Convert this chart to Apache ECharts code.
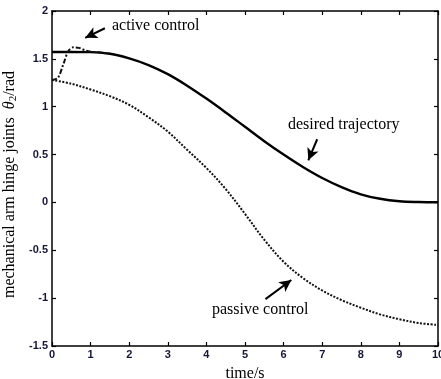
<!DOCTYPE html>
<html>
<head>
<meta charset="utf-8">
<script src="https://cdn.jsdelivr.net/npm/echarts@6/dist/echarts.min.js"></script>
<style>
html, body { margin: 0; padding: 0; background: #fff; }
#chart { width: 441px; height: 379px; }
</style>
</head>
<body>
<div id="chart"></div>
<script>
// time axis samples (s)
var timeS = [0, 0.5, 1, 1.5, 2, 2.5, 3, 3.5, 4, 4.5, 5, 5.5, 6, 6.5, 7, 7.5, 8, 8.5, 9, 9.5, 10];
var desired = [1.571, 1.571, 1.570, 1.553, 1.505, 1.435, 1.340, 1.220, 1.085, 0.940, 0.790, 0.640, 0.500, 0.370, 0.255, 0.160, 0.085, 0.038, 0.012, 0.004, 0.002];
var passive = [1.28, 1.24, 1.18, 1.11, 1.02, 0.89, 0.74, 0.55, 0.36, 0.14, -0.12, -0.39, -0.62, -0.79, -0.92, -1.02, -1.10, -1.17, -1.22, -1.26, -1.28];
// active control only differs from the desired curve at the start
var activeT = [0, 0.15, 0.3, 0.42, 0.55, 0.7, 0.85, 1.0, 1.2, 1.5];
var activeV = [1.28, 1.30, 1.45, 1.58, 1.62, 1.615, 1.59, 1.575, 1.57, 1.553];
var xTicks = ['0', '1', '2', '3', '4', '5', '6', '7', '8', '9', '10'];

function pairs(xs, ys) {
    var out = [];
    for (var i = 0; i < xs.length; i++) out.push([xs[i], ys[i]]);
    return out;
}

var dom = document.getElementById('chart');
var myChart = echarts.init(dom);
var tickFont = { color: '#16163a', fontFamily: 'Liberation Sans', fontWeight: 'bold', fontSize: 11 };
var serif = 'Liberation Serif';
var boxLine = { show: true, onZero: false, lineStyle: { color: '#000', width: 1.5 } };
var inTick = { inside: true, length: 4, lineStyle: { color: '#000', width: 1.2 } };

var option = {
    animation: false,
    grid: { left: 52, right: 3, top: 11, bottom: 33, outerBoundsMode: 'none' },
    xAxis: [{
        type: 'value', min: 0, max: 10, interval: 1,
        axisLine: boxLine, axisTick: inTick,
        axisLabel: Object.assign({ margin: 3, formatter: function (v) { return xTicks[v] || ''; } }, tickFont),
        splitLine: { show: false },
        name: 'time/s', nameLocation: 'middle', nameGap: 20,
        nameTextStyle: { fontFamily: serif, fontSize: 16, color: '#000' }
    }, {
        type: 'value', min: 0, max: 10, interval: 1, position: 'top',
        axisLine: boxLine, axisTick: inTick,
        axisLabel: { show: false }, splitLine: { show: false }
    }],
    yAxis: [{
        type: 'value', min: -1.5, max: 2, interval: 0.5,
        axisLine: boxLine, axisTick: inTick,
        axisLabel: Object.assign({ margin: 4 }, tickFont),
        splitLine: { show: false },
        name: '{n|mechanical arm hinge joints  }{t|θ}{s|2}{n|/rad}',
        nameLocation: 'middle', nameGap: 22, nameRotate: 90,
        nameTextStyle: {
            color: '#000', padding: [0, 12, 0, 0],
            rich: {
                n: { fontFamily: serif, fontSize: 16, color: '#000' },
                t: { fontFamily: serif, fontSize: 16, fontStyle: 'italic', color: '#000' },
                s: { fontFamily: serif, fontSize: 11, color: '#000', verticalAlign: 'bottom', padding: [6, 0, 0, 0] }
            }
        }
    }, {
        type: 'value', min: -1.5, max: 2, interval: 0.5, position: 'right',
        axisLine: boxLine, axisTick: inTick,
        axisLabel: { show: false }, splitLine: { show: false }
    }],
    series: [{
        name: 'desired trajectory', type: 'line', data: pairs(timeS, desired),
        smooth: 0.35, showSymbol: false,
        lineStyle: { color: '#000', width: 2.4 }
    }, {
        name: 'passive control', type: 'line', data: pairs(timeS, passive),
        smooth: 0.35, showSymbol: false,
        lineStyle: { color: '#111', width: 2, type: [2, 1.5] }
    }, {
        name: 'active control', type: 'line', data: pairs(activeT, activeV),
        smooth: 0.3, showSymbol: false,
        lineStyle: { color: '#111', width: 2, type: [5, 2, 2, 2] },
        markLine: {
            silent: true, symbol: ['none', 'arrow'], symbolSize: [9, 12],
            label: { show: false },
            lineStyle: { color: '#000', width: 2, type: 'solid' },
            data: [
                [{ coord: [1.37, 1.82] }, { coord: [0.86, 1.72] }],
                [{ coord: [6.87, 0.66] }, { coord: [6.64, 0.44] }],
                [{ coord: [5.53, -1.01] }, { coord: [6.2, -0.81] }]
            ]
        }
    }],
    graphic: [
        { type: 'text', left: 112, top: 18, style: { text: 'active control', font: '16px "Liberation Serif"', fill: '#000' } },
        { type: 'text', left: 288, top: 117, style: { text: 'desired trajectory', font: '16px "Liberation Serif"', fill: '#000' } },
        { type: 'text', left: 212, top: 302, style: { text: 'passive control', font: '16px "Liberation Serif"', fill: '#000' } }
    ]
};
myChart.setOption(option, true);
window.addEventListener('resize', function () { myChart.resize(); });
</script>
</body>
</html>
